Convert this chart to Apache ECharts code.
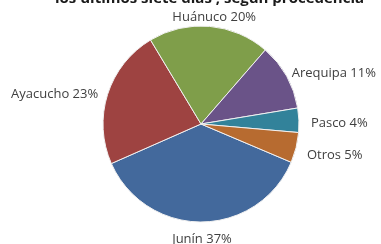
<!DOCTYPE html>
<html>
<head>
<meta charset="utf-8">
<script src="https://cdn.jsdelivr.net/npm/echarts@6/dist/echarts.min.js"></script>
<style>
  html, body { margin: 0; padding: 0; background: #fff; }
  #chart { width: 381px; height: 244px; }
</style>
</head>
<body>
<div id="chart"></div>
<script>
var regiones = ['Junín', 'Ayacucho', 'Huánuco', 'Arequipa', 'Pasco', 'Otros'];
var porcentajes = [37, 23, 20, 11, 4, 5];
var colores = ['#43699C', '#9E4341', '#7F9E4A', '#6A5388', '#32829A', '#B76B30'];

var procedencia = echarts.init(document.getElementById('chart'));

var cx = 201, cy = 124, radio = 98, inicio = -23;

var total = porcentajes.reduce(function (a, b) { return a + b; }, 0);
// angulo medio de cada sector (grados, sentido horario desde las 12)
var medios = [];
var acum = 90 - inicio;
porcentajes.forEach(function (v) {
    var paso = v / total * 360;
    medios.push(acum + paso / 2);
    acum += paso;
});

var datos = regiones.map(function (r, i) {
    return { name: r, value: porcentajes[i], itemStyle: { color: colores[i] } };
});

var option = {
    animation: false,
    title: {
        text: 'los últimos siete días , según procedencia',
        left: 50,
        top: -14,
        textStyle: {
            fontFamily: 'Open Sans',
            fontWeight: 'bold',
            fontSize: 15,
            color: '#1a1a1a'
        }
    },
    series: [{
        type: 'pie',
        center: [cx, cy],
        radius: radio,
        startAngle: inicio,
        clockwise: true,
        avoidLabelOverlap: false,
        itemStyle: {
            borderColor: '#f0f0f0',
            borderWidth: 1
        },
        label: {
            show: true,
            position: 'outside',
            formatter: '{b} {c}%',
            fontFamily: 'Open Sans',
            fontSize: 13,
            color: '#404040'
        },
        labelLine: { show: false },
        labelLayout: function (p) {
            var a = medios[p.dataIndex] * Math.PI / 180;
            var dx = Math.sin(a), dy = -Math.cos(a);
            var w = p.labelRect.width, h = p.labelRect.height;
            return {
                x: cx + dx * (radio + 12) + dx * w / 2,
                y: cy + dy * (radio + 7) + dy * h / 2 + 4,
                align: 'center',
                verticalAlign: 'middle'
            };
        },
        data: datos
    }]
};

procedencia.setOption(option);
</script>
</body>
</html>
